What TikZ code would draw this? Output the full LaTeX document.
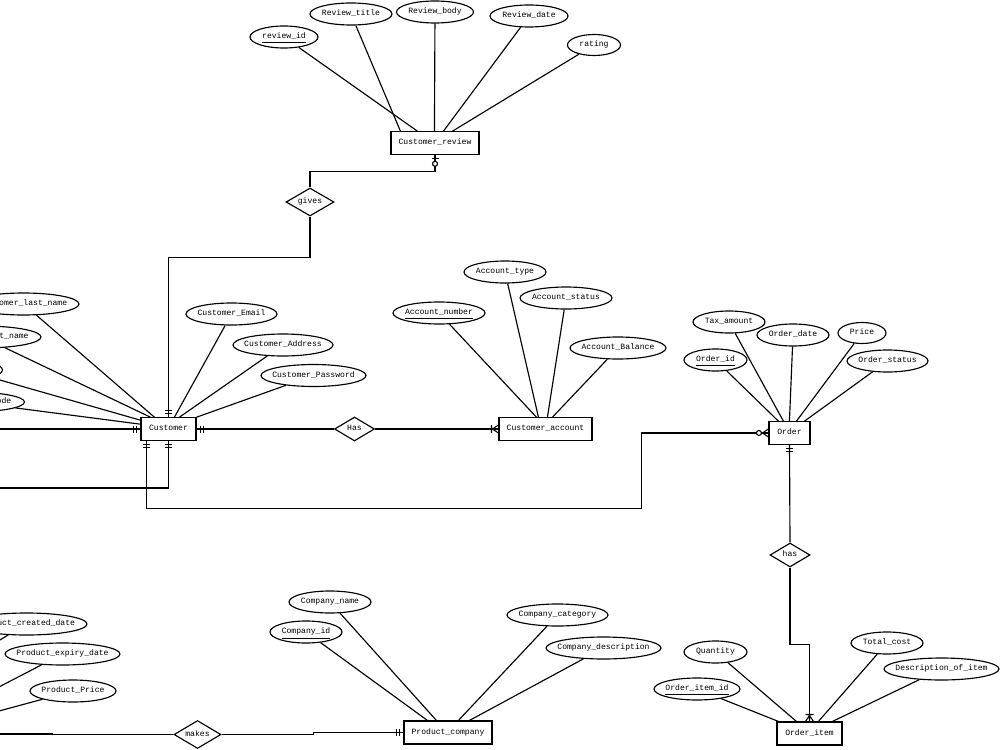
\documentclass[tikz,border=0pt]{standalone}
\usepackage{fontspec}
\newfontfamily\ermono{Liberation Mono}
\usetikzlibrary{shapes.geometric,calc}
\newcommand{\zb}[1]{\makebox[0pt]{\smash{#1}\vphantom{Ag}}}
\begin{document}
\begin{tikzpicture}[x=0.02cm,y=-0.02cm, line width=0.65pt,
  every node/.style={font=\ermono\fontsize{4.6pt}{5.5pt}\selectfont, inner sep=0pt},
  attr/.style={ellipse, draw, minimum height=0.44cm},
  ent/.style={rectangle, draw, minimum height=0.45cm},
  rel/.style={diamond, draw},
  dbar/.pic={\draw (4,-3.5) -- (4,3.5) (7,-3.5) -- (7,3.5);},
  onemany/.pic={\draw (0,-4) -- (6,0) -- (0,4) (0,0) -- (6,0) (7,-4) -- (7,4);},
  zmany/.pic={\draw (0,-4) -- (6,0) -- (0,4) (0,0) -- (6,0); \draw[fill=white] (9.5,0) circle (2.5);},
  zone/.pic={\draw (4,-3.5) -- (4,3.5); \draw[fill=white] (9,0) circle (2.5);}
]
\useasboundingbox (0,0) rectangle (1000,750);
\fill[white] (0,0) rectangle (1000,750);
\clip (0,0) rectangle (1000,750);

% ---------- Customer_review ----------
\node[ent, minimum width=1.76cm] (crev) at (435,143) {\zb{Customer\_review}};
\node[attr, minimum width=1.36cm] (rid) at (284,37) {\zb{\underline{review\_id}}};
\node[attr, minimum width=1.64cm] (rtitle) at (351,14) {\zb{Review\_title}};
\node[attr, minimum width=1.54cm] (rbody) at (435,12) {\zb{Review\_body}};
\node[attr, minimum width=1.56cm] (rdate) at (529,16) {\zb{Review\_date}};
\node[attr, minimum width=1.06cm, minimum height=0.42cm] (rating) at (594,45) {\zb{rating}};
\draw (rid) -- ($(crev.north west)+(27,0)$);
\draw (rtitle) -- ($(crev.north west)+(10,0)$);
\draw (rbody) -- ($(crev.north west)+(44,0)$);
\draw (rdate) -- ($(crev.north west)+(53,0)$);
\draw (rating) -- ($(crev.north west)+(62,0)$);

% ---------- gives ----------
\node[rel, minimum width=0.96cm, minimum height=0.56cm] (gives) at (310,202) {\zb{gives}};

% ---------- Customer ----------
\node[ent, minimum width=1.1cm] (cust) at (168.5,429) {\zb{Customer}};
\node[attr, minimum width=2.22cm] (clast) at (23.5,304) {\zb{Customer\_last\_name}};
\node[attr, minimum width=2.34cm] (cfirst) at (-17.5,337) {\zb{Customer\_first\_name}};
\node[attr, minimum width=1.5cm, minimum height=0.4cm] (cidn) at (-35,370) {\zb{\underline{Customer\_id}}};
\node[attr, minimum width=2.18cm, minimum height=0.4cm] (czip) at (-30,402) {\zb{Customer\_zip\_code}};
\node[attr, minimum width=1.82cm] (cemail) at (231.5,314) {\zb{Customer\_Email}};
\node[attr, minimum width=2.0cm] (caddr) at (283,345) {\zb{Customer\_Address}};
\node[attr, minimum width=2.1cm] (cpass) at (313.5,375.5) {\zb{Customer\_Password}};
\draw (clast) -- ($(cust.north west)+(14,0)$);
\draw (cfirst) -- ($(cust.north west)+(10,0)$);
\draw (cidn) -- ($(cust.north west)+(0,3)$);
\draw (czip) -- ($(cust.north west)+(0,7)$);
\draw (cemail) -- ($(cust.north west)+(34,0)$);
\draw (caddr) -- ($(cust.north west)+(39,0)$);
\draw (cpass) -- (cust.north east);

\draw (crev.south) -- ++(0,17) -| (gives.north);
\draw (gives.south) -- ++(0,41) -| (cust.north);
\pic[rotate=-90] at (crev.south) {zone};
\pic[rotate=90] at (cust.north) {dbar};

\coordinate (offA) at (-40,429);
\coordinate (offB) at (-40,488);
\draw (cust.west) -- (offA);
\pic[rotate=180] at (cust.west) {dbar};
\draw (cust.south) |- (offB);
\pic[rotate=-90] at (cust.south) {dbar};

% ---------- Has / Customer_account ----------
\node[rel, minimum width=0.8cm, minimum height=0.48cm] (has1) at (354.5,429) {\zb{Has}};
\node[ent, minimum width=1.86cm] (cacc) at (545.5,429) {\zb{Customer\_account}};
\draw (cust.east) -- (has1.west);
\pic at (cust.east) {dbar};
\draw (has1.east) -- (cacc.west);
\pic[rotate=180] at (cacc.west) {onemany};
\node[attr, minimum width=1.84cm] (anum) at (439,313) {\zb{\underline{Account\_number}}};
\node[attr, minimum width=1.64cm] (atype) at (505,272) {\zb{Account\_type}};
\node[attr, minimum width=1.84cm] (astat) at (566,298) {\zb{Account\_status}};
\node[attr, minimum width=1.92cm] (abal) at (618,348) {\zb{Account\_Balance}};
\draw (anum) -- ($(cacc.north west)+(38,0)$);
\draw (atype) -- ($(cacc.north west)+(40,0)$);
\draw (astat) -- ($(cacc.north west)+(49,0)$);
\draw (abal) -- ($(cacc.north west)+(54,0)$);

% ---------- Order ----------
\node[ent, minimum width=0.82cm] (ord) at (789.5,433) {\zb{Order}};
\node[attr, minimum width=1.44cm] (otax) at (729,322) {\zb{Tax\_amount}};
\node[attr, minimum width=1.44cm] (odate) at (793,335) {\zb{Order\_date}};
\node[attr, minimum width=0.96cm, minimum height=0.42cm] (oprice) at (862,333) {\zb{Price}};
\node[attr, minimum width=1.26cm] (oid) at (715.5,360) {\zb{\underline{Order\_id}}};
\node[attr, minimum width=1.62cm] (ostat) at (887.5,361) {\zb{Order\_status}};
\draw (oid) -- ($(ord.north west)+(10,0)$);
\draw (otax) -- ($(ord.north west)+(15,0)$);
\draw (odate) -- ($(ord.north west)+(21,0)$);
\draw (oprice) -- ($(ord.north west)+(28,0)$);
\draw (ostat) -- ($(ord.north west)+(36,0)$);

\draw ($(cust.south west)+(6,0)$) |- ++(495,68) |- (ord.west);
\pic[rotate=-90] at ($(cust.south west)+(6,0)$) {dbar};
\pic[rotate=180] at (ord.west) {zmany};

% ---------- has / Order_item ----------
\node[rel, minimum width=0.8cm, minimum height=0.48cm] (has2) at (790,555) {\zb{has}};
\node[ent, minimum width=1.3cm, minimum height=0.46cm] (oitem) at (809.5,733.5) {\zb{Order\_item}};
\draw (ord.south) -- (has2.north);
\pic[rotate=-90] at (ord.south) {dbar};
\draw (has2.south) -- ++(0,77) -| (oitem.north);
\pic[rotate=90] at (oitem.north) {onemany};
\node[attr, minimum width=1.26cm] (oqty) at (715.5,652) {\zb{Quantity}};
\node[attr, minimum width=1.72cm] (oiid) at (697,689) {\zb{\underline{Order\_item\_id}}};
\node[attr, minimum width=1.44cm] (otot) at (887,643) {\zb{Total\_cost}};
\node[attr, minimum width=2.3cm] (odesc) at (941.5,669) {\zb{Description\_of\_item}};
\draw (oiid) -- ($(oitem.north west)+(2,0)$);
\draw (oqty) -- ($(oitem.north west)+(20,0)$);
\draw (otot) -- ($(oitem.north west)+(42,0)$);
\draw (odesc) -- ($(oitem.north west)+(56,0)$);

% ---------- Product_company ----------
\node[ent, minimum width=1.76cm, minimum height=0.46cm] (pc) at (448,732.5) {\zb{Product\_company}};
\node[attr, minimum width=1.64cm] (cname) at (330,602) {\zb{Company\_name}};
\node[attr, minimum width=1.44cm] (cidc) at (306,632) {\zb{\underline{Company\_id}}};
\node[attr, minimum width=2.02cm] (ccat) at (557.5,615) {\zb{Company\_category}};
\node[attr, minimum width=2.3cm] (cdesc) at (603.5,648) {\zb{Company\_description}};
\draw (cidc) -- ($(pc.north west)+(24,0)$);
\draw (cname) -- ($(pc.north west)+(33,0)$);
\draw (ccat) -- ($(pc.north west)+(55,0)$);
\draw (cdesc) -- ($(pc.north west)+(66,0)$);

% ---------- makes / Product ----------
\node[rel, minimum width=0.94cm, minimum height=0.56cm] (makes) at (197.5,734.5) {\zb{makes}};
\node[ent, minimum width=2cm, minimum height=0.48cm] (prod) at (-85,734) {};
\draw (prod.east) -- ++(87,0) |- (makes.west);
\draw (makes.east) -- ++(92,0) |- (pc.west);
\pic[rotate=180] at (pc.west) {dbar};
\node[attr, minimum width=2.42cm] (pcd) at (26.5,624) {\zb{Product\_created\_date}};
\node[attr, minimum width=2.3cm] (ped) at (62.5,654) {\zb{Product\_expiry\_date}};
\node[attr, minimum width=1.72cm] (ppr) at (73,691) {\zb{Product\_Price}};
\draw (pcd) -- (prod.north west);
\draw (ped) -- ($(prod.north west)+(68,0)$);
\draw (ppr) -- ($(prod.north west)+(96,0)$);
\end{tikzpicture}
\end{document}
